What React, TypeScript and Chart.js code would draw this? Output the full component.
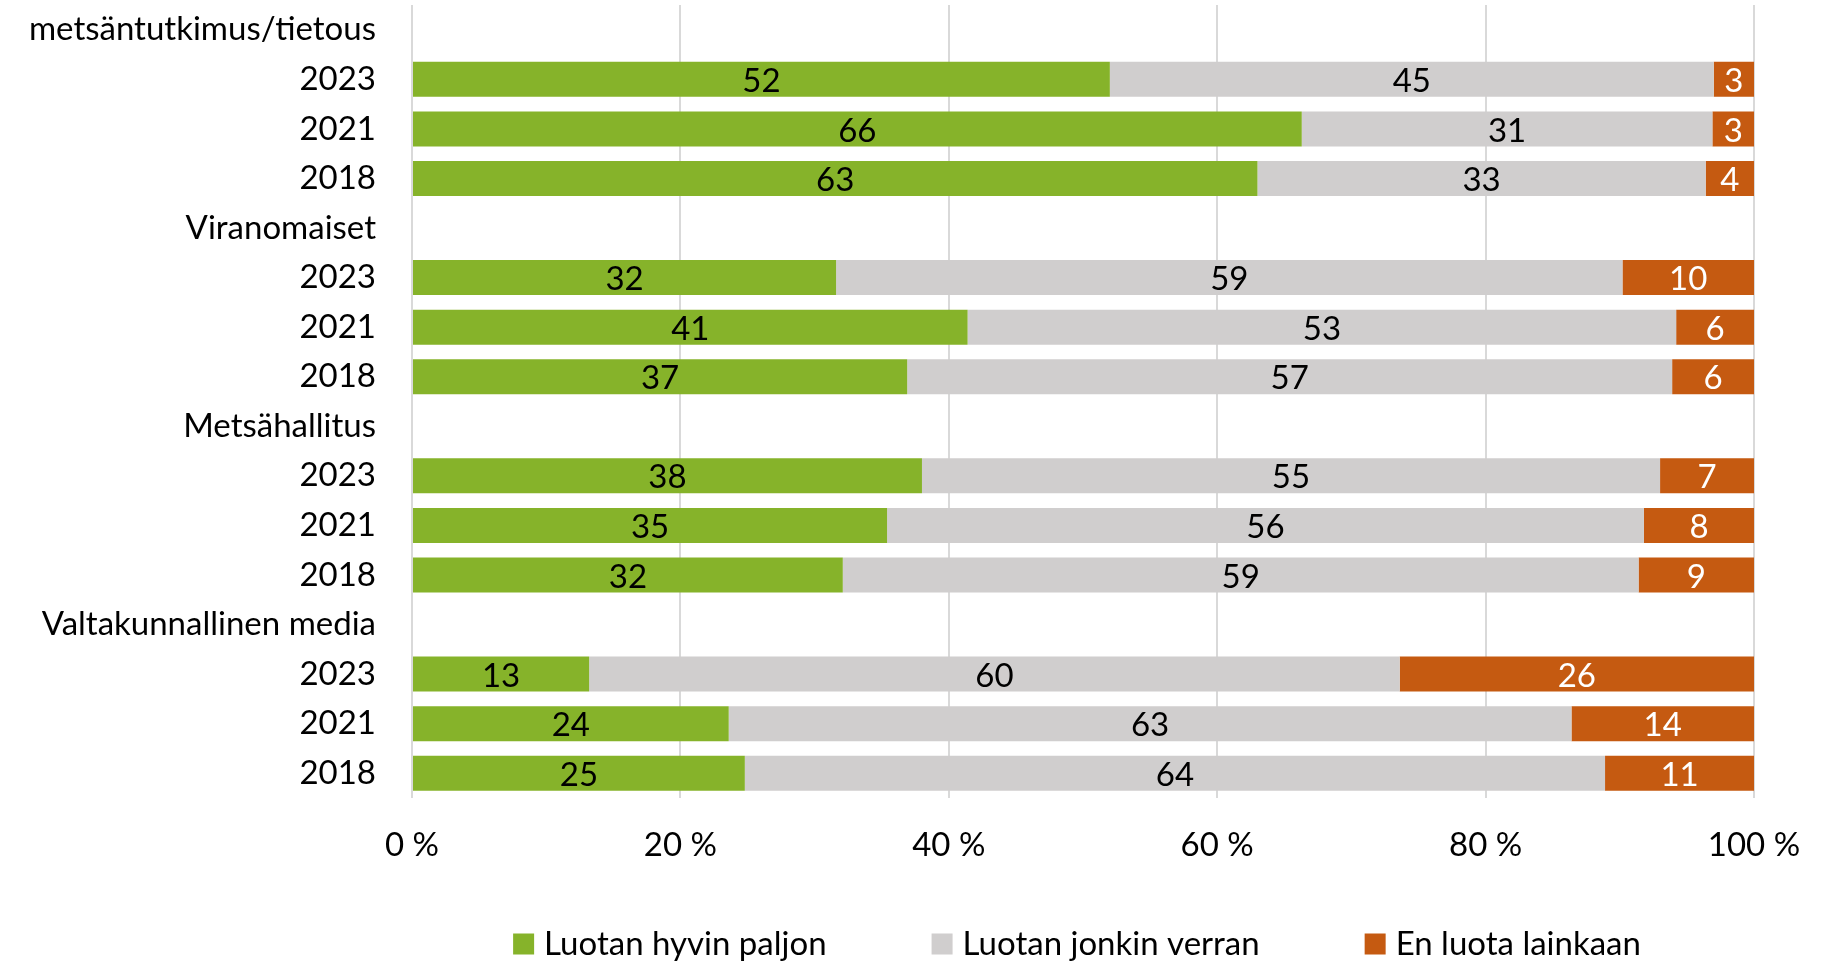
import React, { useEffect, useRef } from "react";
import { Chart, registerables } from "chart.js";

Chart.register(...registerables);

const CATEGORIES = [
  "metsäntutkimus/tietous", "2023", "2021", "2018",
  "Viranomaiset", "2023", "2021", "2018",
  "Metsähallitus", "2023", "2021", "2018",
  "Valtakunnallinen media", "2023", "2021", "2018",
];
const SERIES_NAMES = ["Luotan hyvin paljon", "Luotan jonkin verran", "En luota lainkaan"];
const HIGH = [null, 52.0, 66.3, 63.0, null, 31.6, 41.4, 36.9, null, 38.0, 35.4, 32.1, null, 13.2, 23.6, 24.8];
const SOME = [null, 45.0, 30.6, 33.4, null, 58.6, 52.8, 57.0, null, 55.0, 56.4, 59.3, null, 60.4, 62.8, 64.1];
const NONE = [null, 3.0, 3.1, 3.6, null, 9.8, 5.8, 6.1, null, 7.0, 8.2, 8.6, null, 26.4, 13.6, 11.1];
const X_TICKS = [0, 20, 40, 60, 80, 100];

const COLORS = ["#86B32A", "#D0CECE", "#C55A11"];
const LABEL_COLORS = ["#000000", "#000000", "#FFFFFF"];
const FONT = "Lato";
const FONT_SIZE = 33;

const valueLabels = {
  id: "valueLabels",
  afterDatasetsDraw(chart: any) {
    const ctx = chart.ctx;
    ctx.save();
    ctx.font = `${FONT_SIZE}px ${FONT}`;
    ctx.textAlign = "center";
    ctx.textBaseline = "middle";
    chart.data.datasets.forEach((ds: any, di: number) => {
      const meta = chart.getDatasetMeta(di);
      meta.data.forEach((el: any, i: number) => {
        const v = ds.data[i];
        if (v == null) return;
        ctx.fillStyle = LABEL_COLORS[di];
        ctx.fillText(String(Math.round(v)), (el.x + el.base) / 2, el.y + 2);
      });
    });
    ctx.restore();
  },
};

const customLegend = {
  id: "customLegend",
  afterDraw(chart: any) {
    const ctx = chart.ctx;
    const area = chart.chartArea;
    ctx.save();
    ctx.font = `${FONT_SIZE}px ${FONT}`;
    const box = 21;
    const gapText = 10;
    const gapItem = 105;
    const widths = SERIES_NAMES.map((t) => ctx.measureText(t).width);
    const total = widths.reduce((a, w) => a + box + gapText + w, 0) + gapItem * (SERIES_NAMES.length - 1);
    const cx = (area.left + area.right) / 2 - 6;
    let x = cx - total / 2;
    const y = 944;
    ctx.textBaseline = "middle";
    ctx.textAlign = "left";
    SERIES_NAMES.forEach((t, i) => {
      ctx.fillStyle = COLORS[i];
      ctx.fillRect(x, y - box / 2, box, box);
      x += box + gapText;
      ctx.fillStyle = "#000";
      ctx.fillText(t, x, y);
      x += widths[i] + gapItem;
    });
    ctx.restore();
  },
};

export default function App() {
  const ref = useRef<HTMLCanvasElement | null>(null);
  useEffect(() => {
    if (!ref.current) return;
    const chart = new Chart(ref.current, {
      type: "bar",
      data: {
        labels: CATEGORIES,
        datasets: [HIGH, SOME, NONE].map((d, i) => ({
          label: SERIES_NAMES[i],
          data: d,
          backgroundColor: COLORS[i],
          borderWidth: 0,
          categoryPercentage: 1,
          barPercentage: 0.707,
        })),
      },
      options: {
        indexAxis: "y",
        animation: false,
        responsive: true,
        maintainAspectRatio: false,
        layout: { padding: { top: 5, left: 0, right: 70, bottom: 103 } },
        plugins: {
          legend: { display: false },
          tooltip: { enabled: false },
        },
        scales: {
          x: {
            stacked: true,
            min: 0,
            max: 100,
            afterBuildTicks: (scale: any) => {
              scale.ticks = X_TICKS.map((v) => ({ value: v }));
            },
            afterFit: (scale: any) => {
              scale.height = 60;
              scale.paddingTop = 0;
              scale.paddingBottom = 0;
              scale.paddingLeft = 0;
              scale.paddingRight = 0;
            },
            ticks: {
              color: "#000",
              font: { family: FONT, size: FONT_SIZE },
              padding: 28,
              callback: (v: any) => `${v} %`,
              maxRotation: 0,
            },
            grid: { color: "#D9D9D9", lineWidth: 2, drawTicks: false },
            border: { display: false },
          },
          y: {
            stacked: true,
            afterFit: (scale: any) => {
              scale.width = 412;
              scale.paddingTop = 0;
              scale.paddingBottom = 0;
            },
            ticks: {
              color: "#000",
              font: { family: FONT, size: FONT_SIZE },
              padding: 36,
              autoSkip: false,
            },
            grid: { display: false, drawTicks: false },
            border: { display: false },
          },
        },
      },
      plugins: [valueLabels, customLegend],
    });
    return () => chart.destroy();
  }, []);
  return (
    <div style={{ position: "fixed", left: 0, top: 0, width: "1824px", height: "961px", background: "#fff" }}>
      <canvas ref={ref} />
    </div>
  );
}
